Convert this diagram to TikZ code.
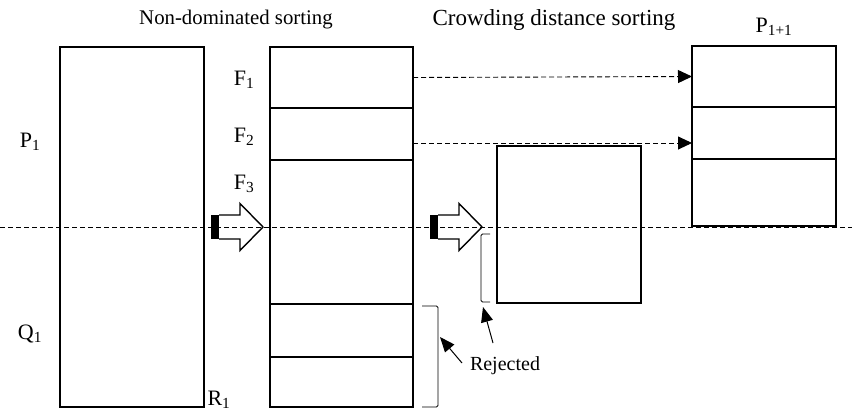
\documentclass[tikz,border=0pt]{standalone}
\usepackage{fontspec}
\setmainfont{Liberation Serif}
\usetikzlibrary{arrows.meta}
\begin{document}
\begin{tikzpicture}[x=1pt,y=-1pt,
  seg/.style={draw, line width=1.8pt, inner sep=0pt, outer sep=0pt, anchor=north west},
  lbl/.style={inner sep=0pt, font=\fontsize{22}{22}\selectfont},
  head/.style={inner sep=0pt},
  guide/.style={line width=0.9pt, dash pattern=on 5pt off 3pt},
  tip/.style={-{Triangle[length=14pt,width=13pt]}},
  brack/.style={line width=0.9pt, rounded corners=1.5pt},
  ptr/.style={line width=1pt, -{Triangle[length=15pt,width=12pt]}},
  blockarr/.pic={
    \fill (0,-12) rectangle (8,12);
    \draw[line width=1.4pt, line join=miter]
      (8,-12) -- (29,-12) -- (29,-23.5) -- (52,0) -- (29,23.5) -- (29,12) -- (8,12);
  }
]
\useasboundingbox (0,0) rectangle (852,413);

% combined population R
\node[seg, minimum width=144pt, minimum height=360pt] (r) at (60,47) {};

% fronts after non-dominated sorting
\node[seg, minimum width=143pt, minimum height=61pt]  (f1) at (270,47)  {};
\node[seg, minimum width=143pt, minimum height=52pt]  (f2) at (270,108) {};
\node[seg, minimum width=143pt, minimum height=144pt] (f3) at (270,160) {};
\node[seg, minimum width=143pt, minimum height=53pt]  (f4) at (270,304) {};
\node[seg, minimum width=143pt, minimum height=50pt]  (f5) at (270,357) {};

% front split by crowding distance
\node[seg, minimum width=144pt, minimum height=157pt] (cd) at (497,146) {};

% next population
\node[seg, minimum width=144pt, minimum height=61pt] (p1) at (692,46)  {};
\node[seg, minimum width=144pt, minimum height=52pt] (p2) at (692,107) {};
\node[seg, minimum width=144pt, minimum height=67pt] (p3) at (692,159) {};

% cut line
\coordinate (cutl) at (0,227);
\coordinate (cutr) at (852,227);
\draw[guide] (cutl) -- (cutr);

% headings
\node[head, font=\fontsize{20.8}{21}\selectfont] (hnd) at (236,20) {Non-dominated sorting};
\node[head, font=\fontsize{23}{23}\selectfont] (hcd) at (554,20) {Crowding distance sorting};
\node[lbl] (lp) at (774,27) {P\textsubscript{1+1}};

% labels
\node[lbl] (lf1) at (244,80)  {F\textsubscript{1}};
\node[lbl] (lf2) at (244,137) {F\textsubscript{2}};
\node[lbl] (lf3) at (244,184) {F\textsubscript{3}};
\node[lbl] (lP)  at (30,142)  {P\textsubscript{1}};
\node[lbl] (lQ)  at (30,334)  {Q\textsubscript{1}};
\node[lbl] (lR)  at (219,400) {R\textsubscript{1}};

% copied fronts
\draw[guide, tip] (f1.east) -- (p1.west);
\draw[guide, tip] ([yshift=-9pt]f2.east) -- ([yshift=-10pt]p2.west);

% block arrows
\pic at (211,227) {blockarr};
\pic at (430,227) {blockarr};

% brackets
\draw[brack] (422,306) -- (438,306) -- (438,407) -- (422,407);
\draw[brack] (490,234) -- (481,234) -- (481,302) -- (490,302);

% rejected
\node[head, font=\fontsize{20}{20}\selectfont] (rej) at (505,366) {Rejected};
\coordinate (bigtip) at (440,337);
\coordinate (bigtail) at (462,363);
\coordinate (smalltip) at (483,307);
\coordinate (smalltail) at (493,343);
\draw[ptr] (bigtail) -- (bigtip);
\draw[ptr] (smalltail) -- (smalltip);
\end{tikzpicture}
\end{document}
